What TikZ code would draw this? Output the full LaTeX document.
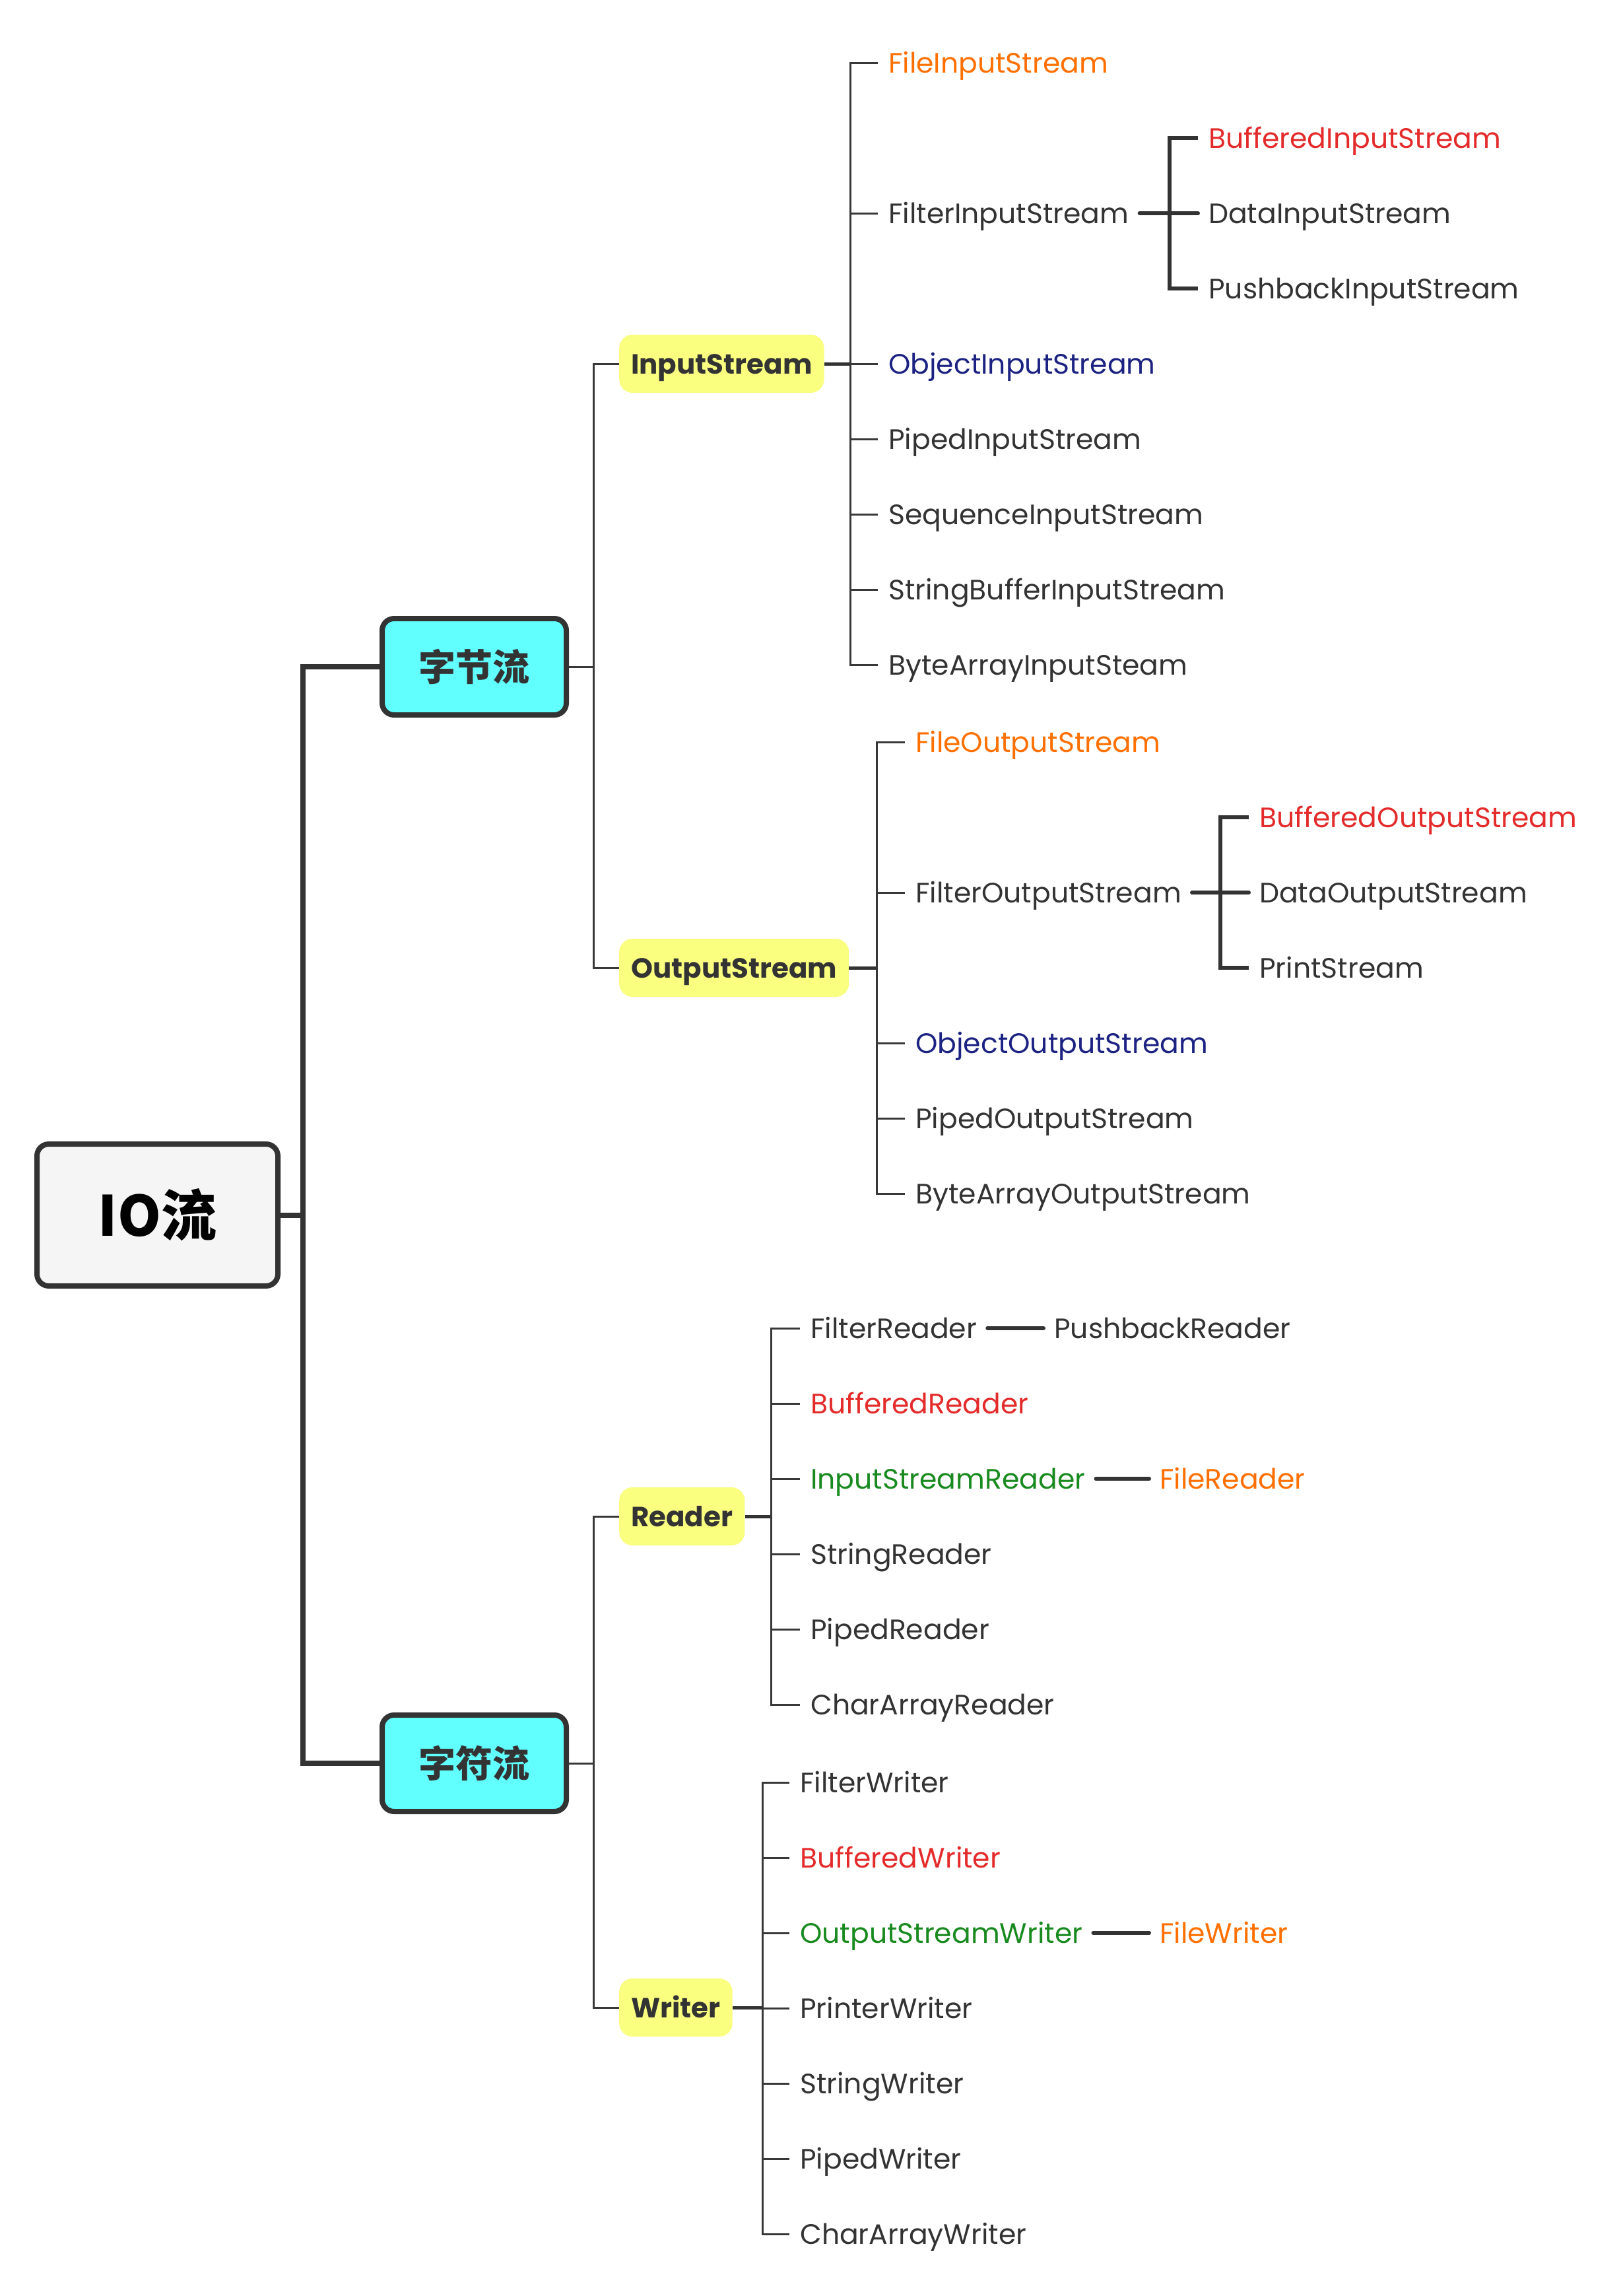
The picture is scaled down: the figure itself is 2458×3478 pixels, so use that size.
\documentclass[tikz,border=0pt]{standalone}
\usepackage{fontspec}
\setmainfont{Poppins}
\newfontfamily\cjk{Noto Sans CJK SC}

\definecolor{ink}{HTML}{333333}
\definecolor{wire}{HTML}{383838}
\definecolor{cOrange}{HTML}{FF7000}
\definecolor{cRed}{HTML}{E42B2B}
\definecolor{cNavy}{HTML}{1C2282}
\definecolor{cGreen}{HTML}{198A1F}
\definecolor{rootfill}{HTML}{F5F5F5}
\definecolor{catfill}{HTML}{62FFFF}
\definecolor{subfill}{HTML}{FAFF80}

\tikzset{
  leaf/.style={anchor=west, inner xsep=16pt, inner ysep=0pt, text height=30pt,
    text depth=0pt, text=ink, font=\fontsize{42.5}{50}\selectfont},
  orange/.style={text=cOrange}, red/.style={text=cRed},
  navy/.style={text=cNavy}, green/.style={text=cGreen},
  subbox/.style={anchor=west, fill=subfill, rounded corners=20pt, inner xsep=18pt,
    inner ysep=0pt, minimum height=88pt, text height=30pt, text depth=0pt, text=ink,
    font=\fontsize{42}{50}\selectfont\bfseries},
  catbox/.style={draw=ink, line width=8pt, fill=catfill, rounded corners=18pt,
    minimum width=279pt, minimum height=146pt, inner sep=0pt, text=ink,
    font=\cjk\fontsize{56}{60}\selectfont\bfseries},
  rootbox/.style={draw=ink, line width=8pt, fill=rootfill, rounded corners=18pt,
    minimum width=365pt, minimum height=215pt, inner sep=0pt, text=black,
    font=\cjk\fontsize{84}{90}\selectfont\bfseries},
  trunk/.style={draw=ink, line width=8pt},
  thinwire/.style={draw=wire, line width=3pt},
  stub/.style={draw=ink, line width=5pt},
  heavy/.style={draw=ink, line width=6pt, line cap=round},
}

\begin{document}
\begin{tikzpicture}[x=1pt, y=-1pt]
\useasboundingbox (0,0) rectangle (2458,3478);

% ---------- root and the two families ----------
\node[rootbox] (root) at (238.5,1840.5) {IO流};
\node[catbox] (byte) at (718.5,1010) {字节流};
\node[catbox] (char) at (718.5,2671) {字符流};
\coordinate (rootbus) at (459,1840.5);
\draw[trunk] (root.east) -- (rootbus);
\draw[trunk] (byte.west) -| (rootbus) |- (char.west);

% ---------- byte streams ----------
\node[subbox] (inp) at (938,551) {InputStream};
\node[subbox] (outp) at (938,1466) {OutputStream};
\coordinate (bytebus) at (899,1010);
\draw[thinwire] (byte.east) -- (bytebus);
\draw[thinwire] (inp.west) -| (bytebus) |- (outp.west);

% InputStream subclasses
\coordinate (inbus) at (1288,551);
\draw[stub] (inp.east) -- (inbus);
\node[leaf, orange] (fis) at (1330,95) {FileInputStream};
\node[leaf] (filis) at (1330,323) {FilterInputStream};
\node[leaf, navy] (ois) at (1330,551) {ObjectInputStream};
\node[leaf] (pis) at (1330,665) {PipedInputStream};
\node[leaf] (sis) at (1330,779) {SequenceInputStream};
\node[leaf] (sbis) at (1330,893) {StringBufferInputStream};
\node[leaf] (bais) at (1330,1007) {ByteArrayInputSteam};
\foreach \n in {fis,filis,ois,pis,sis,sbis,bais}
  \draw[thinwire] (\n.west) -| (inbus);

% FilterInputStream subclasses
\node[leaf, red] (bis) at (1815,209) {BufferedInputStream};
\node[leaf] (dis) at (1815,323) {DataInputStream};
\node[leaf] (pbis) at (1815,437) {PushbackInputStream};
\coordinate (filinbus) at (1772,323);
\draw[heavy] (filis.east) -- (dis.west);
\draw[heavy, line cap=butt] (bis.west) -| (filinbus) |- (pbis.west);

% OutputStream subclasses
\coordinate (outbus) at (1328,1466);
\draw[stub] (outp.east) -- (outbus);
\node[leaf, orange] (fos) at (1371,1124) {FileOutputStream};
\node[leaf] (filos) at (1371,1352) {FilterOutputStream};
\node[leaf, navy] (oos) at (1371,1580) {ObjectOutputStream};
\node[leaf] (pos) at (1371,1694) {PipedOutputStream};
\node[leaf] (baos) at (1371,1808) {ByteArrayOutputStream};
\foreach \n in {fos,filos,oos,pos,baos}
  \draw[thinwire] (\n.west) -| (outbus);

% FilterOutputStream subclasses
\node[leaf, red] (bos) at (1892,1238) {BufferedOutputStream};
\node[leaf] (dos) at (1892,1352) {DataOutputStream};
\node[leaf] (ps) at (1892,1466) {PrintStream};
\coordinate (filoutbus) at (1849,1352);
\draw[heavy] (filos.east) -- (dos.west);
\draw[heavy, line cap=butt] (bos.west) -| (filoutbus) |- (ps.west);

% ---------- character streams ----------
\node[subbox] (rd) at (938,2297) {Reader};
\node[subbox] (wr) at (938,3041) {Writer};
\coordinate (charbus) at (899,2671);
\draw[thinwire] (char.east) -- (charbus);
\draw[thinwire] (rd.west) -| (charbus) |- (wr.west);

% Reader subclasses
\coordinate (rdbus) at (1168,2297);
\draw[stub] (rd.east) -- (rdbus);
\node[leaf] (frd) at (1212,2012) {FilterReader};
\node[leaf, red] (brd) at (1212,2126) {BufferedReader};
\node[leaf, green] (isr) at (1212,2240) {InputStreamReader};
\node[leaf] (srd) at (1212,2354) {StringReader};
\node[leaf] (prd) at (1212,2468) {PipedReader};
\node[leaf] (card) at (1212,2582) {CharArrayReader};
\foreach \n in {frd,brd,isr,srd,prd,card}
  \draw[thinwire] (\n.west) -| (rdbus);
\node[leaf] (pbrd) at (1581,2012) {PushbackReader};
\node[leaf, orange] (flrd) at (1741,2240) {FileReader};
\draw[heavy] (frd.east) -- (pbrd.west);
\draw[heavy] (isr.east) -- (flrd.west);

% Writer subclasses
\coordinate (wrbus) at (1155,3041);
\draw[stub] (wr.east) -- (wrbus);
\node[leaf] (fwr) at (1196,2700) {FilterWriter};
\node[leaf, red] (bwr) at (1196,2814) {BufferedWriter};
\node[leaf, green] (osw) at (1196,2928) {OutputStreamWriter};
\node[leaf] (prw) at (1196,3042) {PrinterWriter};
\node[leaf] (swr) at (1196,3156) {StringWriter};
\node[leaf] (pwr) at (1196,3270) {PipedWriter};
\node[leaf] (cawr) at (1196,3384) {CharArrayWriter};
\foreach \n in {fwr,bwr,osw,prw,swr,pwr,cawr}
  \draw[thinwire] (\n.west) -| (wrbus);
\node[leaf, orange] (flwr) at (1741,2928) {FileWriter};
\draw[heavy] (osw.east) -- (flwr.west);
\end{tikzpicture}
\end{document}
